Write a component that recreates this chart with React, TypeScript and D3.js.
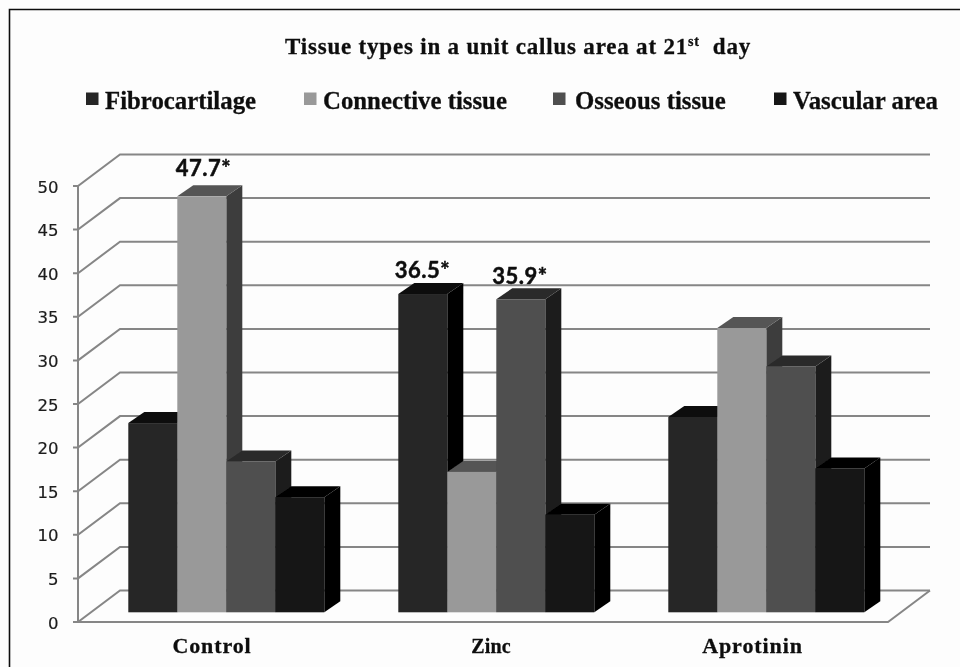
import React from 'react';
import * as d3 from 'd3';

const categories = ['Control', 'Zinc', 'Aprotinin'];
const seriesNames = ['Fibrocartilage', 'Connective tissue', 'Osseous tissue', 'Vascular area'];
const fibrocartilage = [21.7, 36.5, 22.4];
const connective = [47.7, 16.1, 32.6];
const osseous = [17.3, 35.9, 28.2];
const vascular = [13.2, 11.2, 16.5];
const ticks = [0, 5, 10, 15, 20, 25, 30, 35, 40, 45, 50];
const frontColors = ['#262626', '#999999', '#4f4f4f', '#161616'];
const topColors = ['#0e0e0e', '#555555', '#2a2a2a', '#030303'];
const sideColors = ['#030303', '#3e3e3e', '#1f1f1f', '#000000'];
const annotations = [
  { text: '47.7*', x: 203.5, y: 176 },
  { text: '36.5*', x: 422.5, y: 278 },
  { text: '35.9*', x: 520, y: 284 },
];
const legendX = [86, 304, 553, 774];
const legendTextX = [105, 323, 575, 793];
const labelX = [212, 491, 752.5];

const W = 960, H = 667;
const y = d3.scaleLinear().domain([0, 50]).range([622, 186]);
const gx = d3.scaleBand().domain(categories).range([78, 888]);
const sx = d3.scaleBand().domain(seriesNames).range([50.3, 246.3]);
const values = [fibrocartilage, connective, osseous, vascular];
const WALL_DX = 42, WALL_DY = 31.5;
const BAR_DX = 16, BAR_DY = 11, BASE = 9.7;
const serif = '"Liberation Serif", serif';
const sans = 'Lato, sans-serif';
const grid = '#868686';

export default function App() {
  return (
    <svg width={W} height={H} viewBox={`0 0 ${W} ${H}`} style={{ position: 'absolute', left: 0, top: 0, background: '#fff' }}>
      <defs>
        <filter id="soft" x="0" y="0" width="100%" height="100%">
          <feGaussianBlur stdDeviation="0.6" />
        </filter>
      </defs>
      <g filter="url(#soft)">
        <rect x={0} y={0} width={W} height={H} fill="#fdfdfd" />
        <path d={`M9.5 ${H}V9.5H${W}`} fill="none" stroke="#111" strokeWidth={1.6} />
        {ticks.map(t => (
          <g key={t} stroke={grid} strokeWidth={2} fill="none">
            <path d={`M73 ${y(t)}H78L${78 + WALL_DX} ${y(t) - WALL_DY}H930`} />
          </g>
        ))}
        <path d={`M78 ${y(50)}V${y(0)}H888L930 ${y(0) - WALL_DY}`} fill="none" stroke={grid} strokeWidth={2} />
        {ticks.map(t => (
          <text key={t} x={58.5} y={y(t) + 6.5} textAnchor="end" fontFamily='"DejaVu Sans", sans-serif' fontSize={16.5} fill="#1a1a1a" stroke="#1a1a1a" strokeWidth={0.2}>{t}</text>
        ))}
        {categories.map((c, gi) => (
          <g key={c}>
            {seriesNames.map((s, si) => {
              const x0 = (gx(c) as number) + (sx(s) as number);
              const w = sx.bandwidth();
              const base = y(0) - BASE;
              const top = y(values[si][gi]) - BASE;
              return (
                <g key={s}>
                  <path fill={sideColors[si]} d={`M${x0 + w} ${top}l${BAR_DX} ${-BAR_DY}V${base - BAR_DY}l${-BAR_DX} ${BAR_DY}Z`} />
                  <path fill={topColors[si]} d={`M${x0} ${top}l${BAR_DX} ${-BAR_DY}h${w}l${-BAR_DX} ${BAR_DY}Z`} />
                  <rect x={x0} y={top} width={w} height={base - top} fill={frontColors[si]} />
                </g>
              );
            })}
          </g>
        ))}
        {annotations.map(a => (
          <text key={a.text} x={a.x} y={a.y} textAnchor="middle" fontFamily={sans} fontWeight={700} fontSize={22} letterSpacing={0.5} fill="#111" stroke="#111" strokeWidth={0.5}>{a.text}</text>
        ))}
        {categories.map((c, i) => (
          <text key={c} x={labelX[i]} y={653} textAnchor="middle" fontFamily={serif} fontWeight={700} fontSize={c === 'Zinc' ? 20 : 22} letterSpacing={c === 'Zinc' ? 0.2 : 0.9} fill="#111" stroke="#111" strokeWidth={0.3}>{c}</text>
        ))}
        <text x={285} y={54} fontFamily={serif} fontWeight={700} fontSize={23} fill="#111" letterSpacing={0.8} stroke="#111" strokeWidth={0.3}>
          Tissue types in a unit callus area at 21<tspan fontSize={14} dy={-8}>st</tspan><tspan dy={8} xmlSpace="preserve">{'  day'}</tspan>
        </text>
        {seriesNames.map((s, i) => (
          <g key={s}>
            <rect x={legendX[i]} y={92.5} width={12.5} height={12.5} fill={frontColors[i]} />
            <text x={legendTextX[i]} y={109} fontFamily={serif} fontWeight={700} fontSize={24.8} fill="#111" stroke="#111" strokeWidth={0.3}>{s}</text>
          </g>
        ))}
      </g>
    </svg>
  );
}
